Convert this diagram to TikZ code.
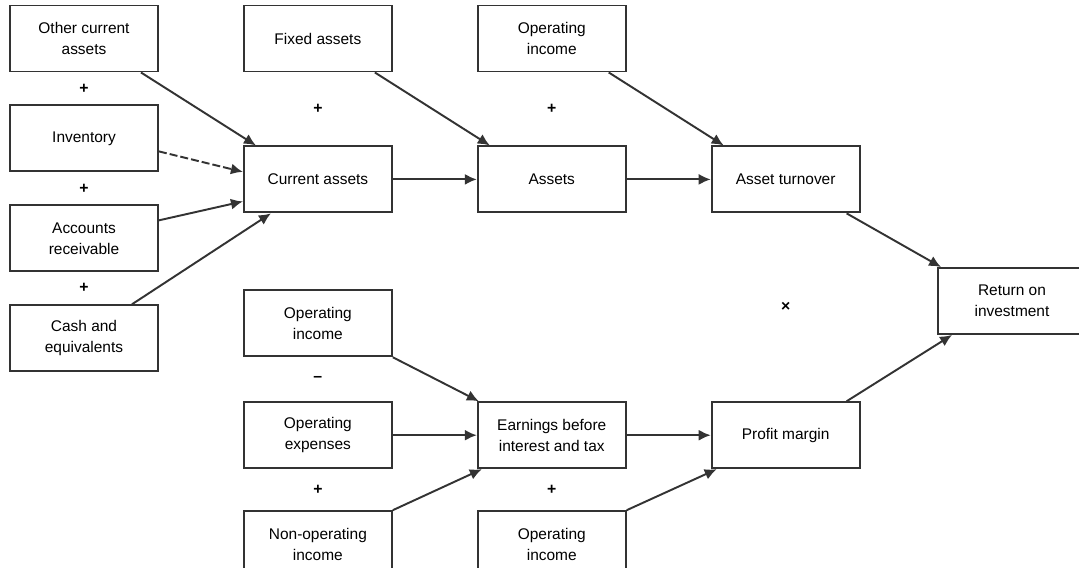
\documentclass[tikz,border=0pt]{standalone}
\usepackage{fontspec}
\setmainfont{Liberation Sans}
\usepackage{tikz}
\usetikzlibrary{arrows.meta,positioning,calc}

\begin{document}
\begin{tikzpicture}[
  x=0.02cm, y=-0.02cm,
  node distance=6.4mm and 16.8mm,
  every node/.style={font=\fontsize{8.8}{12}\selectfont},
  box/.style={draw=black!80, line width=1.1pt, align=center,
              minimum width=2.96cm, minimum height=1.32cm, inner sep=1pt},
  arr/.style={-{Latex[length=2.4mm,width=2.2mm]}, line width=1.1pt, draw=black!80},
  op/.style={font=\bfseries\fontsize{9}{9}\selectfont}
]
  \useasboundingbox (0,0) rectangle (1079,568);
  % Nodes
  \node[box] (other) at (84,38.5) {Other current\\assets};
  \node[box, below=of other] (inv)  {Inventory};
  \node[box, below=of inv]   (recv) {Accounts\\receivable};
  \node[box, below=of recv]  (cash) {Cash and\\equivalents};
  \node[box, right=of other]   (fixed)  {Fixed assets};
  \node[box, right=of fixed]   (opinca) {Operating\\income};
  \node[box, below=14.6mm of fixed] (curr)  {Current assets};
  \node[box, right=of curr]    (assets)   {Assets};
  \node[box, right=of assets]  (turnover) {Asset turnover};
  \node[box] (roi) at (1012,301) {Return on\\investment};
  \node[box, below=15.2mm of curr]  (opincb) {Operating\\income};
  \node[box, below=8.8mm of opincb] (opexp)  {Operating\\expenses};
  \node[box, below=8.2mm of opexp]  (nonop)  {Non-operating\\income};
  \node[box, right=of opexp]   (ebit)   {Earnings before\\interest and tax};
  \node[box, right=of nonop]   (opincc) {Operating\\income};
  \node[box, right=of ebit]    (margin) {Profit margin};
  % Operators
  \node[op] (o1) at ($(other)!0.5!(inv)$)   {+};
  \node[op] (o2) at ($(inv)!0.5!(recv)$)    {+};
  \node[op] (o3) at ($(recv)!0.5!(cash)$)   {+};
  \node[op] (o4) at ($(fixed)!0.5!(curr)$)  {+};
  \node[op] (o5) at ($(opinca)!0.5!(assets)$) {+};
  \node[op] (o6) at ($(turnover)!0.5!(margin)$) {×};
  \node[op] (o7) at ($(opincb)!0.5!(opexp)$) {–};
  \node[op] (o8) at ($(opexp)!0.5!(nonop)$)  {+};
  \node[op] (o9) at ($(ebit)!0.5!(opincc)$)  {+};
  % Arrows
  \draw[arr] ([xshift=-3.6mm]other.south east) -- ([xshift=2.6mm]curr.north west);
  \draw[arr, dash pattern=on 1.6mm off 0.6mm] ([yshift=-2.6mm]inv.east) -- ([yshift=1.5mm]curr.west);
  \draw[arr] ([yshift=3.6mm]recv.east) -- ([yshift=-4.4mm]curr.west);
  \draw[arr] ([xshift=9.6mm]cash.north) -- ([xshift=5.6mm]curr.south west);
  \draw[arr] (curr) -- (assets);
  \draw[arr] ([xshift=-3.6mm]fixed.south east) -- ([xshift=2.6mm]assets.north west);
  \draw[arr] ([xshift=-3.6mm]opinca.south east) -- ([xshift=2.6mm]turnover.north west);
  \draw[arr] (assets) -- (turnover);
  \draw[arr] ([xshift=-2.8mm]turnover.south east) -- ([xshift=0.8mm]roi.north west);
  \draw[arr] ([xshift=-2.8mm]margin.north east) -- ([xshift=3mm]roi.south west);
  \draw[arr] (opincb.south east) -- ([xshift=0.4mm]ebit.north west);
  \draw[arr] (opexp) -- (ebit);
  \draw[arr] (nonop.north east) -- ([xshift=1mm]ebit.south west);
  \draw[arr] (ebit) -- (margin);
  \draw[arr] (opincc.north east) -- ([xshift=1.2mm]margin.south west);
\end{tikzpicture}
\end{document}
